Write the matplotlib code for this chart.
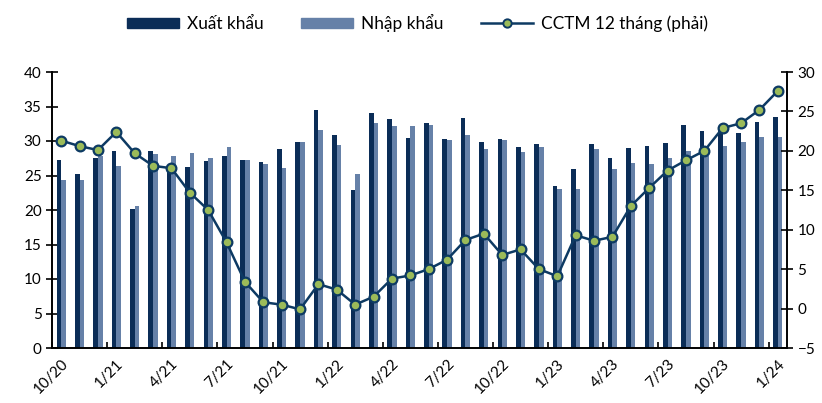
import matplotlib
matplotlib.use("Agg")
import matplotlib.pyplot as plt
from matplotlib.lines import Line2D
from matplotlib.patches import Patch
import numpy as np

# Du lieu (ty USD), thang 10/20 -> 1/24
thang = ["10/20", "11/20", "12/20", "1/21", "2/21", "3/21", "4/21", "5/21", "6/21", "7/21",
         "8/21", "9/21", "10/21", "11/21", "12/21", "1/22", "2/22", "3/22", "4/22", "5/22",
         "6/22", "7/22", "8/22", "9/22", "10/22", "11/22", "12/22", "1/23", "2/23", "3/23",
         "4/23", "5/23", "6/23", "7/23", "8/23", "9/23", "10/23", "11/23", "12/23", "1/24"]

xuat_khau = [27.2, 25.2, 27.6, 28.6, 20.1, 28.6, 26.2, 26.2, 27.1, 27.8,
             27.2, 27.0, 28.8, 29.9, 34.5, 30.8, 22.9, 34.0, 33.2, 30.4,
             32.6, 30.3, 33.3, 29.9, 30.3, 29.1, 29.6, 23.5, 26.0, 29.5,
             27.5, 29.0, 29.3, 29.7, 32.3, 31.4, 32.0, 31.1, 32.8, 33.5]

nhap_khau = [24.3, 24.4, 27.8, 26.4, 20.6, 28.1, 27.8, 28.2, 27.6, 29.1,
             27.3, 26.6, 26.1, 29.8, 31.6, 29.4, 25.2, 32.6, 32.2, 32.2,
             32.3, 30.2, 30.9, 28.8, 30.2, 28.4, 29.1, 23.0, 23.1, 28.9,
             26.0, 26.8, 26.7, 27.5, 28.6, 27.8, 29.3, 29.8, 30.6, 30.6]

cctm_12t = [21.3, 20.6, 20.1, 22.4, 19.7, 18.1, 17.8, 14.7, 12.5, 8.4,
            3.4, 0.8, 0.5, -0.1, 3.1, 2.4, 0.5, 1.5, 3.8, 4.2,
            5.0, 6.2, 8.7, 9.5, 6.8, 7.5, 5.0, 4.1, 9.3, 8.6,
            9.1, 13.0, 15.3, 17.5, 18.8, 20.0, 22.9, 23.5, 25.2, 27.6]

MAU_XK = "#0b2d57"
MAU_NK = "#6681a8"
MAU_LINE = "#0d3a63"
MAU_DIEM = "#9bbb59"

plt.rcParams["font.family"] = ["Lato", "DejaVu Sans"]

fig = plt.figure(figsize=(8.22, 4.03), dpi=100)
ax = fig.add_axes([52 / 822, 1 - 348 / 403, 735 / 822, 276 / 403])
ax2 = ax.twinx()

x = np.arange(len(thang))
w = 0.25
ax.bar(x - w / 2, xuat_khau, width=w, color=MAU_XK, zorder=2)
ax.bar(x + w / 2, nhap_khau, width=w, color=MAU_NK, zorder=2)

ax2.plot(x, cctm_12t, color=MAU_LINE, lw=1.8, marker="o", ms=7,
         mfc=MAU_DIEM, mec=MAU_LINE, mew=1.6, zorder=3)

ax.set_xlim(-0.5, len(thang) - 0.5)
ax.set_ylim(0, 40)
ax.set_yticks(np.arange(0, 41, 5))
ax2.set_ylim(-5, 30)
ax2.set_yticks(np.arange(-5, 31, 5))

# nhan truc x: moi 3 thang
ax.set_xticks(x[::3])
ax.set_xticklabels(thang[::3], rotation=45, ha="right", va="top", rotation_mode="anchor")
ax.tick_params(axis="x", length=0, pad=6, labelsize=11)
ax.set_xticks(np.arange(-0.5, len(thang) - 1, 3), minor=True)
ax.tick_params(axis="x", which="minor", direction="in", length=4, width=1.2)

ax.tick_params(axis="y", direction="inout", length=8, width=1.2, labelsize=11)
ax2.tick_params(axis="y", direction="inout", length=8, width=1.2, labelsize=11)

for a in (ax, ax2):
    a.spines["top"].set_visible(False)
    for s in ("left", "right", "bottom"):
        a.spines[s].set_linewidth(1.2)

handles = [
    Patch(color=MAU_XK, label="Xuất khẩu"),
    Patch(color=MAU_NK, label="Nhập khẩu"),
    Line2D([0], [0], color=MAU_LINE, lw=1.8, marker="o", ms=6, mfc=MAU_DIEM,
           mec=MAU_LINE, mew=1.4, label="CCTM 12 tháng (phải)"),
]
fig.legend(handles=handles, loc="center", bbox_to_anchor=(0.508, 1 - 23 / 403), ncol=3,
           frameon=False, fontsize=12.4, handlelength=3.0, handleheight=0.58,
           columnspacing=2.2, handletextpad=0.47)

fig.savefig("out.png", dpi=100)
